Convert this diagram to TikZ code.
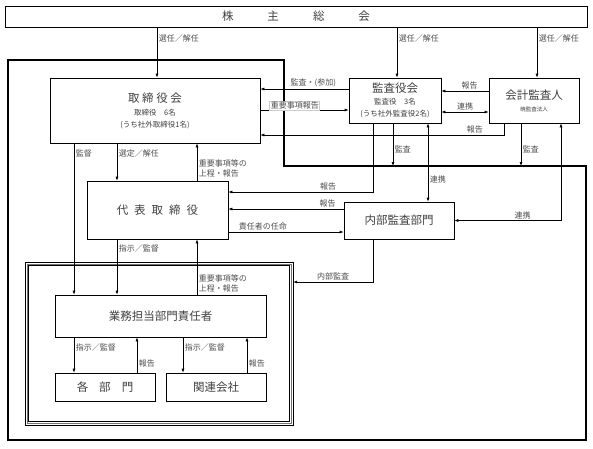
\documentclass[tikz,border=0pt]{standalone}
\usepackage{fontspec}
\setmainfont{Noto Sans CJK JP}
\usetikzlibrary{arrows.meta}

\tikzset{
  box/.style={draw, line width=0.6pt, inner sep=0pt, align=center, text=black!75},
  lbl/.style={font=\fontsize{8}{10}\selectfont, text=black!70, inner sep=1.5pt},
  arr/.style={line width=0.6pt, -{Latex[length=4pt,width=3pt]}},
  arrb/.style={line width=0.6pt, {Latex[length=4pt,width=3pt]}-{Latex[length=4pt,width=3pt]}},
}
\newcommand{\ttlfont}{\fontsize{11.5}{14}\selectfont}
\newcommand{\subfont}{\fontsize{7.5}{9.5}\selectfont}

\begin{document}
\begin{tikzpicture}[x=1pt,y=1pt,yscale=-1,xscale=1]
\useasboundingbox (0,0) rectangle (593,448);

%Shape: thick frame
\draw [line width=1.6pt] (8,60) -- (284,60) -- (284,166) -- (586,166) -- (586,440) -- (8,440) -- cycle ;
\coordinate (frameA) at (393,166);
\coordinate (frameB) at (521,166);

%Shape: double frame
\draw [line width=0.7pt] (25,262) rectangle (293,425) ;
\draw [line width=0.5pt, black!55] (26.8,263.8) rectangle (291.2,423.2) ;
\draw [line width=0.7pt] (28.5,265.5) rectangle (289.5,421.5) ;
\node [inner sep=0pt, minimum width=268, minimum height=163] (waku) at (159,343.5) {};

% Boxes
\node [box, minimum width=582, minimum height=21] (kabu) at (296,16.5) {\ttlfont 株\hspace{34pt}主\hspace{34pt}総\hspace{34pt}会};
\node [box, minimum width=210, minimum height=65] (tori) at (155,110.5) {{\ttlfont 取 締 役 会}\\[1pt]{\subfont 取締役　6名}\\{\subfont (うち社外取締役1名)}};
\node [box, minimum width=92, minimum height=45] (kansa) at (395,100.5) {{\ttlfont 監査役会}\\{\subfont 監査役　3名}\\{\subfont (うち社外監査役2名)}};
\node [box, minimum width=90, minimum height=45] (kaikei) at (534,100.5) {{\ttlfont 会計監査人}\\{\fontsize{5.5}{7}\selectfont 暁監査法人}};
\node [box, minimum width=141, minimum height=58] (daihyo) at (157.5,210) {\ttlfont 代\hspace{6pt}表\hspace{6pt}取\hspace{6pt}締\hspace{6pt}役};
\node [box, minimum width=110, minimum height=37] (naibu) at (399,220.5) {\ttlfont 内部監査部門};
\node [box, minimum width=211, minimum height=42] (gyomu) at (160.5,316) {\ttlfont 業務担当部門責任者};
\node [box, minimum width=100, minimum height=28] (kakubu) at (105,387) {\ttlfont 各\hspace{11pt}部\hspace{11pt}門};
\node [box, minimum width=100, minimum height=28] (kanren) at (216,387) {\ttlfont 関連会社};

% from shareholders
\draw [arr] (157,0 |- kabu.south) -- (157,0 |- tori.north) node [lbl, pos=0.22, right] {選任／解任};
\draw [arr] (397,0 |- kabu.south) -- (397,0 |- kansa.north) node [lbl, pos=0.22, right] {選任／解任};
\draw [arr] (537,0 |- kabu.south) -- (537,0 |- kaikei.north) node [lbl, pos=0.22, right] {選任／解任};

% board and auditors
\draw [arr] (kansa.west |- 0,89) -- (tori.east |- 0,89) node [lbl, pos=0.4, above] {監査・(参加)};
\draw [arr] (tori.east |- 0,110) -- (kansa.west |- 0,110) node [lbl, pos=0.39, above, fill=white, draw=black!20, inner sep=1pt, yshift=-1pt] {重要事項報告};
\draw [arr] (504,0 |- kaikei.south) |- (tori.east |- 0,135) node [lbl, pos=0.56, above] {報告};
\draw [arr] (kaikei.west |- 0,91) -- (kansa.east |- 0,91) node [lbl, pos=0.4, above] {報告};
\draw [arrb] (kansa.east |- 0,112) -- (kaikei.west |- 0,112) node [lbl, midway, above] {連携};

% audits
\draw [arr] (373,0 |- kansa.south) |- (daihyo.east |- 0,192) node [lbl, pos=0.655, above] {報告};
\draw [arr] (393,0 |- kansa.south) -- (frameA) node [lbl, pos=0.6, right] {監査};
\draw [arr] (521,0 |- kaikei.south) -- (frameB) node [lbl, pos=0.6, right] {監査};
\draw [arrb] (428,0 |- kansa.south) -- (428,0 |- naibu.north) node [lbl, pos=0.72, right] {連携};
\draw [arrb] (561,0 |- kaikei.south) |- (naibu.east) node [lbl, pos=0.68, above] {連携};
\draw [arr] (naibu.west |- 0,209) -- (daihyo.east |- 0,209) node [lbl, pos=0.14, above] {報告};
\draw [arr] (daihyo.east |- 0,232) -- (naibu.west |- 0,232) node [lbl, pos=0.3, above] {責任者の任命};
\draw [arr] (373,0 |- naibu.south) |- (waku.east |- 0,282) node [lbl, pos=0.75, above] {内部監査};

% management
\draw [arr] (74,0 |- tori.south) -- (74,0 |- gyomu.north) node [lbl, pos=0.07, right] {監督};
\draw [arr] (117,0 |- tori.south) -- (117,0 |- daihyo.north) node [lbl, pos=0.26, right] {選定／解任};
\draw [arr] (197,0 |- daihyo.north) -- (197,0 |- tori.south) node [lbl, pos=0.32, right, align=left] {重要事項等の\\上程・報告};
\draw [arr] (117,0 |- daihyo.south) -- (117,0 |- gyomu.north) node [lbl, pos=0.16, right] {指示／監督};
\draw [arr] (197,0 |- gyomu.north) -- (197,0 |- daihyo.south) node [lbl, pos=0.21, right, align=left] {重要事項等の\\上程・報告};
\draw [arr] (74,0 |- gyomu.south) -- (74,0 |- kakubu.north) node [lbl, pos=0.28, right] {指示／監督};
\draw [arr] (137,0 |- kakubu.north) -- (137,0 |- gyomu.south) node [lbl, pos=0.25, right] {報告};
\draw [arr] (183,0 |- gyomu.south) -- (183,0 |- kanren.north) node [lbl, pos=0.28, right] {指示／監督};
\draw [arr] (247,0 |- kanren.north) -- (247,0 |- gyomu.south) node [lbl, pos=0.25, right] {報告};

\end{tikzpicture}
\end{document}
